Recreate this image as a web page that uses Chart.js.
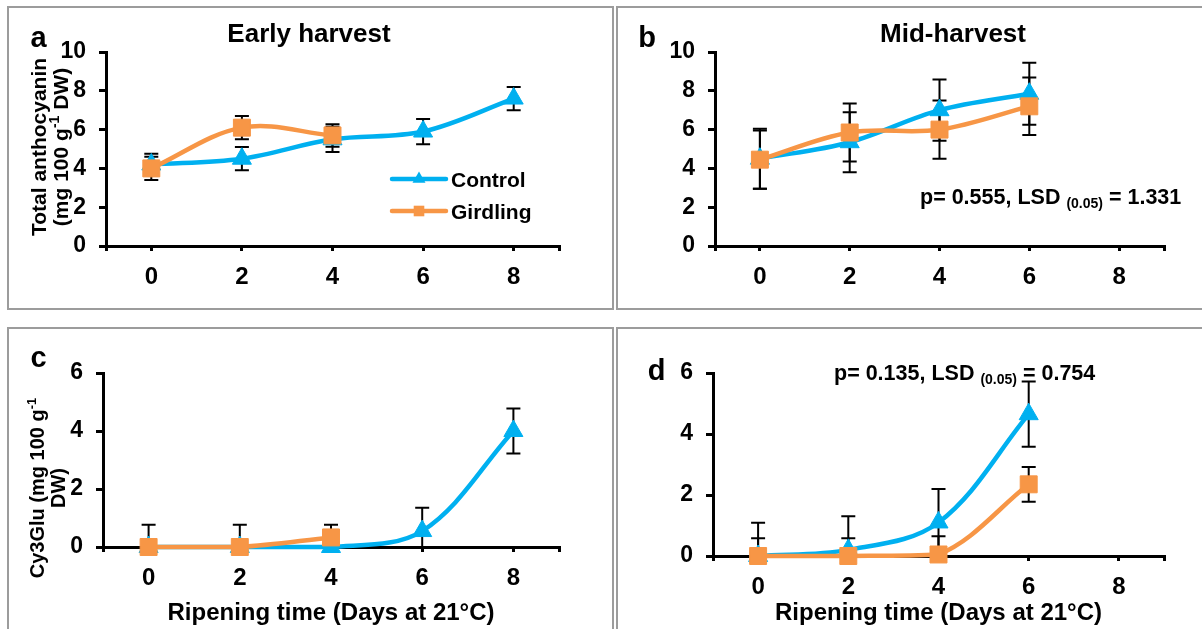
<!DOCTYPE html>
<html>
<head>
<meta charset="utf-8">
<title>Anthocyanin during ripening</title>
<script src="https://cdn.jsdelivr.net/npm/chart.js@4.4.1/dist/chart.umd.min.js"></script>
<style>
  body { margin: 0; width: 1202px; height: 629px; background: #fff; position: relative; overflow: hidden; }
  .panel { position: absolute; border: 2px solid #9c9c9c; box-sizing: border-box; }
  canvas { position: absolute; }
</style>
</head>
<body>
<div class="panel" style="left:7px; top:6px; width:607px; height:304px;"></div>
<div class="panel" style="left:616px; top:6px; width:600px; height:304px;"></div>
<div class="panel" style="left:7px; top:327px; width:607px; height:320px;"></div>
<div class="panel" style="left:616px; top:327px; width:600px; height:320px;"></div>
<canvas id="chartA" width="604" height="300" style="left:9px; top:8px;"></canvas>
<canvas id="chartB" width="585" height="300" style="left:617px; top:8px;"></canvas>
<canvas id="chartC" width="604" height="301" style="left:9px; top:328px;"></canvas>
<canvas id="chartD" width="585" height="301" style="left:617px; top:328px;"></canvas>

<script>
// Ripening time (days at 21 °C)
const days = [0, 2, 4, 6, 8];
const dayTicks = [0, 2, 4, 6, 8];
const totalTicks = [0, 2, 4, 6, 8, 10];
const cyTicks = [0, 2, 4, 6];

// a - early harvest, total anthocyanin
const earlyControl = [4.2, 4.5, 5.5, 5.9, 7.6];
const earlyControlErr = [0.55, 0.6, 0.65, 0.65, 0.6];
const earlyGirdling = [4.0, 6.1, 5.7];
const earlyGirdlingErr = [0.6, 0.6, 0.58];

// b - mid-harvest, total anthocyanin
const midControl = [4.5, 5.35, 7.0, 7.85];
const midControlErr = [1.55, 1.55, 1.58, 1.6];
const midGirdling = [4.45, 5.85, 6.0, 7.2];
const midGirdlingErr = [1.5, 1.5, 1.5, 1.48];

// c - early harvest, Cy3Glu
const cyEarlyControl = [0, 0, 0, 0.55, 4.0];
const cyEarlyControlErr = [0.77, 0.77, 0, 0.8, 0.78];
const cyEarlyGirdling = [0, 0, 0.33];
const cyEarlyGirdlingErr = [0, 0, 0.44];

// d - mid-harvest, Cy3Glu
const cyMidControl = [0, 0.2, 1.1, 4.65];
const cyMidControlErr = [1.09, 1.1, 1.1, 1.07];
const cyMidGirdling = [0, 0, 0.05, 2.35];
const cyMidGirdlingErr = [0.58, 0.58, 0.6, 0.57];

const FONT = '"Liberation Sans", Arial, sans-serif';
const BLUE = '#00B0F0';
const ORANGE = '#F79646';

function points(values) {
    return values.map((v, i) => ({ x: days[i], y: v }));
}

function series(label, values, errors, color, style, radius, order) {
    return {
        label: label,
        data: points(values),
        errors: errors,
        order: order,
        borderColor: color,
        backgroundColor: color,
        borderWidth: 4.5,
        tension: 0.35,
        pointStyle: style,
        pointRadius: radius,
        pointBackgroundColor: color,
        pointBorderColor: color,
        pointBorderWidth: 1,
        clip: false
    };
}

// error bars (black, with caps), cut at the x axis
const errorBars = {
    id: 'errorBars',
    beforeDatasetsDraw(chart) {
        const { ctx, chartArea, scales: { x, y } } = chart;
        ctx.save();
        ctx.beginPath();
        ctx.rect(0, 0, chart.width, chartArea.bottom);
        ctx.clip();
        ctx.strokeStyle = '#000';
        ctx.lineWidth = 2;
        chart.data.datasets.forEach(ds => {
            ds.data.forEach((p, i) => {
                const e = ds.errors[i];
                if (!e) return;
                const px = x.getPixelForValue(p.x);
                const top = y.getPixelForValue(p.y + e);
                const bot = y.getPixelForValue(p.y - e);
                ctx.beginPath();
                ctx.moveTo(px, top); ctx.lineTo(px, bot);
                ctx.moveTo(px - 7, top); ctx.lineTo(px + 7, top);
                ctx.moveTo(px - 7, bot); ctx.lineTo(px + 7, bot);
                ctx.stroke();
            });
        });
        ctx.restore();
    }
};

// text with superscript / subscript runs; y is the middle of the capitals
function drawRich(ctx, item) {
    const size = item.size;
    const small = Math.round(size * 0.65);
    const runs = item.runs.map(r => typeof r === 'string' ? { t: r } : r);
    const fontFor = r => 'bold ' + (r.sup || r.sub ? small : size) + 'px ' + FONT;
    let w = 0;
    runs.forEach(r => { ctx.font = fontFor(r); r.w = ctx.measureText(r.t).width; w += r.w; });
    ctx.save();
    ctx.translate(item.x, item.y);
    if (item.rotate) ctx.rotate(-Math.PI / 2);
    let cx = item.align === 'left' ? 0 : -w / 2;
    ctx.fillStyle = '#000';
    ctx.textAlign = 'left';
    ctx.textBaseline = 'alphabetic';
    runs.forEach(r => {
        ctx.font = fontFor(r);
        let dy = size * 0.36;
        if (r.sup) dy -= size * 0.42;
        if (r.sub) dy += size * 0.22;
        ctx.fillText(r.t, cx, dy);
        cx += r.w;
    });
    ctx.restore();
}

function textPlugin(items) {
    return {
        id: 'panelText',
        afterDraw(chart) {
            items.forEach(it => drawRich(chart.ctx, it));
        }
    };
}

// legend inside panel a
function legendPlugin(entries) {
    return {
        id: 'insideLegend',
        afterDraw(chart) {
            const ctx = chart.ctx;
            entries.forEach(en => {
                const ds = chart.data.datasets[en.index];
                ctx.save();
                ctx.strokeStyle = ds.borderColor;
                ctx.lineWidth = 4.5;
                ctx.lineCap = 'round';
                ctx.beginPath();
                ctx.moveTo(en.x1, en.y); ctx.lineTo(en.x2, en.y);
                ctx.stroke();
                ctx.fillStyle = ds.backgroundColor;
                Chart.helpers.drawPoint(ctx, { pointStyle: ds.pointStyle, radius: 7.5, rotation: 0, borderWidth: 0 },
                    (en.x1 + en.x2) / 2, en.y);
                ctx.restore();
                drawRich(ctx, { runs: [ds.label], x: en.x2 + 5, y: en.y, size: 21, align: 'left' });
            });
        }
    };
}

function makeChart(id, cfg) {
    const tickFont = size => ({ size: size, weight: 'bold', family: FONT });
    const xScale = {
        type: 'linear',
        min: -1,
        max: 9,
        afterBuildTicks: s => { s.ticks = [-1].concat(dayTicks, [9]).map(v => ({ value: v })); },
        afterFit: s => { s.height = cfg.xHeight; },
        grid: { drawOnChartArea: false, drawTicks: true, tickLength: 5, color: '#000', lineWidth: 3 },
        border: { color: '#000', width: 3 },
        ticks: {
            autoSkip: false, maxRotation: 0, color: '#000', padding: 12, font: tickFont(24),
            callback: v => dayTicks.includes(v) ? String(v) : ''
        },
        title: cfg.xTitle ? {
            display: true, text: cfg.xTitle, color: '#000',
            font: { size: 24, weight: 'bold', family: FONT }, padding: { top: 0, bottom: 1 }
        } : { display: false }
    };
    const yScale = {
        min: 0,
        max: cfg.yTicks[cfg.yTicks.length - 1],
        afterBuildTicks: s => { s.ticks = cfg.yTicks.map(v => ({ value: v })); },
        afterFit: s => { s.width = cfg.yWidth; },
        grid: { drawOnChartArea: false, drawTicks: true, tickLength: 7, color: '#000', lineWidth: 3 },
        border: { color: '#000', width: 3 },
        ticks: { color: '#000', padding: 13, font: tickFont(23) }
    };
    const plugins = [errorBars, textPlugin(cfg.texts)];
    if (cfg.legend) plugins.push(legendPlugin(cfg.legend));
    return new Chart(document.getElementById(id), {
        type: 'line',
        data: {
            datasets: [
                series('Control', cfg.control, cfg.controlErr, BLUE, 'triangle', 11, 1),
                series('Girdling', cfg.girdling, cfg.girdlingErr, ORANGE, 'rect', 12, 0)
            ]
        },
        options: {
            responsive: false,
            animation: false,
            devicePixelRatio: 1,
            layout: { padding: cfg.padding },
            plugins: { legend: { display: false }, tooltip: { enabled: false } },
            scales: { x: xScale, y: yScale }
        },
        plugins: plugins
    });
}

makeChart('chartA', {
    control: earlyControl, controlErr: earlyControlErr,
    girdling: earlyGirdling, girdlingErr: earlyGirdlingErr,
    yTicks: totalTicks, yWidth: 97, xHeight: 62,
    padding: { left: 0, top: 44, right: 54, bottom: 0 },
    legend: [
        { index: 0, x1: 383, x2: 437, y: 171 },
        { index: 1, x1: 383, x2: 437, y: 203 }
    ],
    texts: [
        { runs: ['a'], x: 29.5, y: 29, size: 29 },
        { runs: ['Early harvest'], x: 300, y: 25, size: 26 },
        { runs: ['Total anthocyanin'], x: 29.5, y: 139, size: 21, rotate: true },
        { runs: ['(mg 100 g', { t: '-1', sup: true }, ' DW)'], x: 51, y: 139, size: 21, rotate: true }
    ]
});

makeChart('chartB', {
    control: midControl, controlErr: midControlErr,
    girdling: midGirdling, girdlingErr: midGirdlingErr,
    yTicks: totalTicks, yWidth: 98, xHeight: 62,
    padding: { left: 0, top: 44, right: 38, bottom: 0 },
    texts: [
        { runs: ['b'], x: 30, y: 29, size: 29 },
        { runs: ['Mid-harvest'], x: 336, y: 25, size: 26 },
        { runs: ['p= 0.555, LSD ', { t: '(0.05)', sub: true }, ' = 1.331'], x: 303, y: 188, size: 21.5, align: 'left' }
    ]
});

makeChart('chartC', {
    control: cyEarlyControl, controlErr: cyEarlyControlErr,
    girdling: cyEarlyGirdling, girdlingErr: cyEarlyGirdlingErr,
    yTicks: cyTicks, yWidth: 94, xHeight: 82,
    xTitle: 'Ripening time (Days at 21°C)',
    padding: { left: 0, top: 45, right: 54, bottom: 0 },
    texts: [
        { runs: ['c'], x: 29.5, y: 29, size: 29 },
        { runs: ['Cy3Glu (mg 100 g', { t: '-1', sup: true }], x: 28, y: 160, size: 20, rotate: true },
        { runs: ['DW)'], x: 49, y: 160, size: 20, rotate: true }
    ]
});

makeChart('chartD', {
    control: cyMidControl, controlErr: cyMidControlErr,
    girdling: cyMidGirdling, girdlingErr: cyMidGirdlingErr,
    yTicks: cyTicks, yWidth: 96, xHeight: 73,
    xTitle: 'Ripening time (Days at 21°C)',
    padding: { left: 0, top: 45, right: 38, bottom: 0 },
    texts: [
        { runs: ['d'], x: 39.5, y: 42, size: 29 },
        { runs: ['p= 0.135, LSD ', { t: '(0.05)', sub: true }, ' = 0.754'], x: 217, y: 44, size: 21.5, align: 'left' }
    ]
});
</script>
</body>
</html>
